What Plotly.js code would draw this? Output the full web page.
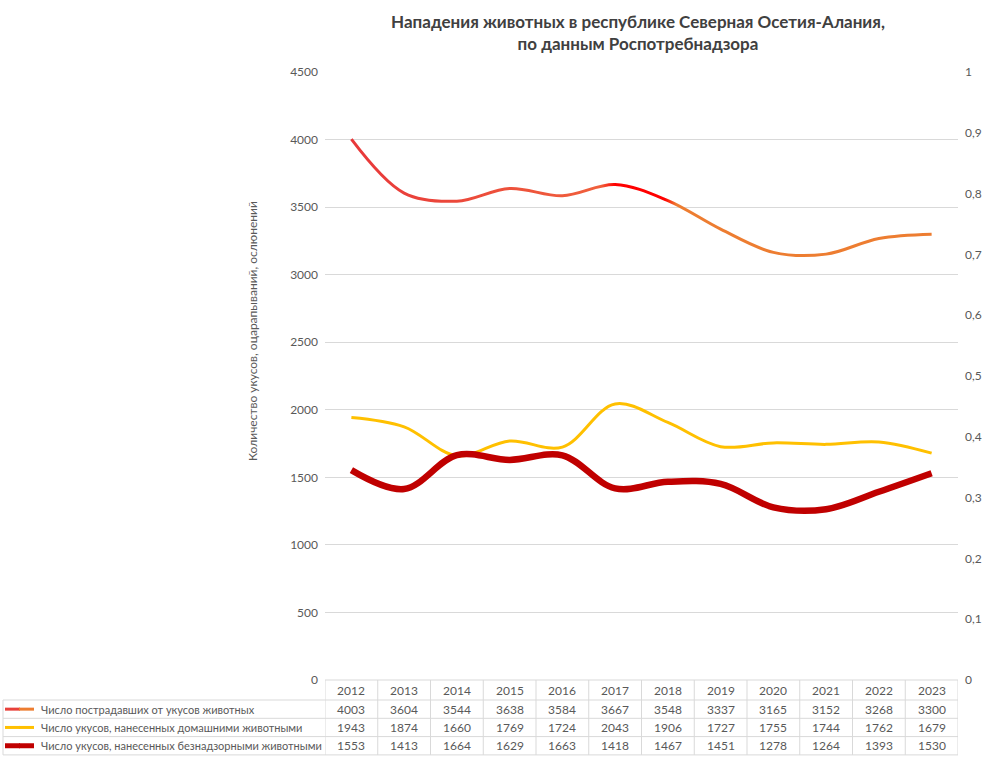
<!DOCTYPE html>
<html>
<head>
<meta charset="utf-8">
<script src="https://cdn.plot.ly/plotly-3.0.1.min.js"></script>
<style>
  html, body { margin: 0; padding: 0; background: #fff; }
  #chart { width: 987px; height: 758px; }
</style>
</head>
<body>
<div id="chart"></div>
<script>
const years = ['2012','2013','2014','2015','2016','2017','2018','2019','2020','2021','2022','2023'];
const victims  = [4003,3604,3544,3638,3584,3667,3548,3337,3165,3152,3268,3300];
const domestic = [1943,1874,1660,1769,1724,2043,1906,1727,1755,1744,1762,1679];
const stray    = [1553,1413,1664,1629,1663,1418,1467,1451,1278,1264,1393,1530];
const seriesNames = [
  'Число пострадавших от укусов животных',
  'Число укусов, нанесенных домашними животными',
  'Число укусов, нанесенных безнадзорными животными'
];
const seriesValues = [victims, domestic, stray];
const seriesColors = ['#ED7D31', '#FFC000', '#C00000'];
const seriesWidths = [3, 3, 6.5];
const titleText = '<b>Нападения животных в республике Северная Осетия-Алания,</b><br><b>по данным Роспотребнадзора</b>';
const yTitle = 'Количество укусов, оцарапываний, ослюнений';

const idx = years.map((_, i) => i);
const FONT = 'Lato, "Open Sans", sans-serif';
const GRAY = '#595959';
const BORDER = '#D9D9D9';

const traces = seriesValues.map((vals, s) => ({
  type: 'scatter', mode: 'lines', x: idx, y: vals, name: seriesNames[s],
  line: { color: seriesColors[s], width: seriesWidths[s], shape: 'spline', smoothing: 1 },
  hoverinfo: 'skip', showlegend: false
}));
traces.push({ type: 'scatter', mode: 'lines', x: [], y: [], yaxis: 'y2', showlegend: false, hoverinfo: 'skip' });

// table geometry (pixel offsets below plot bottom)
const headerH = 20, rowH = 18.3;
const rowTops = [0, headerH, headerH + rowH, headerH + 2 * rowH, headerH + 3 * rowH];
const shapes = [];
const annotations = [];
rowTops.forEach((t, k) => {
  shapes.push({
    type: 'line', xref: k === 0 ? 'x' : 'paper', x0: k === 0 ? -0.5 : 0, x1: k === 0 ? 11.5 : 1,
    yref: 'paper', ysizemode: 'pixel', yanchor: 0, y0: -t, y1: -t,
    line: { color: BORDER, width: 1 }
  });
  if (k > 0) {
    shapes.push({
      type: 'line', xref: 'paper', xsizemode: 'pixel', xanchor: 0, x0: -322, x1: 0,
      yref: 'paper', ysizemode: 'pixel', yanchor: 0, y0: -t, y1: -t,
      line: { color: BORDER, width: 1 }
    });
  }
});
for (let i = 0; i <= years.length; i++) {
  shapes.push({
    type: 'line', xref: 'x', x0: i - 0.5, x1: i - 0.5,
    yref: 'paper', ysizemode: 'pixel', yanchor: 0, y0: 0, y1: -rowTops[4],
    line: { color: BORDER, width: 1 }
  });
}
shapes.push({
  type: 'line', xref: 'paper', xsizemode: 'pixel', xanchor: 0, x0: -322, x1: -322,
  yref: 'paper', ysizemode: 'pixel', yanchor: 0, y0: -headerH, y1: -rowTops[4],
  line: { color: BORDER, width: 1 }
});
years.forEach((yr, i) => {
  annotations.push({
    xref: 'x', x: i, yref: 'paper', y: 0, yshift: -headerH / 2, yanchor: 'middle', xanchor: 'center',
    text: yr, showarrow: false, font: { family: FONT, size: 12, color: GRAY }
  });
});
const keyColors = [['#E8403A', '#ED7D31'], ['#FFC000', '#FFC000'], ['#C00000', '#C00000']];
seriesValues.forEach((vals, s) => {
  const cy = headerH + rowH * s + rowH / 2;
  vals.forEach((v, i) => {
    annotations.push({
      xref: 'x', x: i, yref: 'paper', y: 0, yshift: -cy, yanchor: 'middle', xanchor: 'center',
      text: String(v), showarrow: false, font: { family: FONT, size: 12, color: GRAY }
    });
  });
  annotations.push({
    xref: 'paper', x: 0, xshift: -286, xanchor: 'left', yref: 'paper', y: 0, yshift: -cy, yanchor: 'middle',
    text: seriesNames[s], showarrow: false, font: { family: FONT, size: 11, color: GRAY }
  });
  shapes.push({
    type: 'line', xref: 'paper', xsizemode: 'pixel', xanchor: 0, x0: -320, x1: -305,
    yref: 'paper', ysizemode: 'pixel', yanchor: 0, y0: -cy, y1: -cy,
    line: { color: keyColors[s][0], width: s === 2 ? 5 : 3 }
  });
  shapes.push({
    type: 'line', xref: 'paper', xsizemode: 'pixel', xanchor: 0, x0: -306, x1: -291,
    yref: 'paper', ysizemode: 'pixel', yanchor: 0, y0: -cy, y1: -cy,
    line: { color: keyColors[s][1], width: s === 2 ? 5 : 3 }
  });
});
annotations.push({
  xref: 'paper', x: 0, xshift: -73, xanchor: 'center', yref: 'paper', y: 0.574, yanchor: 'middle',
  text: yTitle, textangle: -90, showarrow: false, font: { family: FONT, size: 12, color: GRAY }
});

const layout = {
  width: 987, height: 758,
  margin: { l: 325, r: 29, t: 72, b: 78, pad: 0 },
  paper_bgcolor: '#fff', plot_bgcolor: '#fff',
  separators: ', ',
  font: { family: FONT, color: GRAY, size: 12 },
  title: {
    text: titleText, xref: 'container', x: 0.6464, xanchor: 'center',
    yref: 'container', y: 1 - 28 / 758, yanchor: 'top',
    font: { family: FONT, size: 17, color: '#404040' }
  },
  xaxis: {
    type: 'linear', range: [-0.5, 11.5], showgrid: false, zeroline: false, showline: false,
    showticklabels: false, ticks: '', fixedrange: true
  },
  yaxis: {
    range: [0, 4500], dtick: 500, tick0: 0, showgrid: true, gridcolor: BORDER, gridwidth: 1,
    zeroline: false, showline: false, ticks: '', ticklabelstandoff: 6,
    tickfont: { family: FONT, size: 12, color: GRAY }
  },
  yaxis2: {
    overlaying: 'y', side: 'right', range: [0, 1], dtick: 0.1, tick0: 0, showgrid: false,
    zeroline: false, showline: false, ticks: '', ticklabelstandoff: 6, tickformat: '.1~f',
    tickfont: { family: FONT, size: 12, color: GRAY }
  },
  shapes: shapes,
  annotations: annotations
};

Plotly.newPlot('chart', traces, layout, { staticPlot: true }).then(gd => {
  const svg = gd.querySelector('svg.main-svg');
  const NS = 'http://www.w3.org/2000/svg';
  let defs = svg.querySelector('defs');
  if (!defs) { defs = document.createElementNS(NS, 'defs'); svg.insertBefore(defs, svg.firstChild); }
  const grad = document.createElementNS(NS, 'linearGradient');
  grad.setAttribute('id', 'victimsGrad');
  grad.setAttribute('x1', '0'); grad.setAttribute('x2', '1');
  grad.setAttribute('y1', '0'); grad.setAttribute('y2', '0');
  [[0, '#E8383A'], [0.43, '#F0603C'], [0.455, '#FF0000'], [0.54, '#FF0000'], [0.56, '#ED7D31'], [1, '#ED7D31']].forEach(([o, c]) => {
    const st = document.createElementNS(NS, 'stop');
    st.setAttribute('offset', o); st.setAttribute('stop-color', c);
    grad.appendChild(st);
  });
  defs.appendChild(grad);
  const tr = gd.querySelectorAll('.scatterlayer .trace')[0];
  if (tr) {
    const p = tr.querySelector('path.js-line');
    if (p) p.style.stroke = 'url(#victimsGrad)';
  }
});
</script>
</body>
</html>
